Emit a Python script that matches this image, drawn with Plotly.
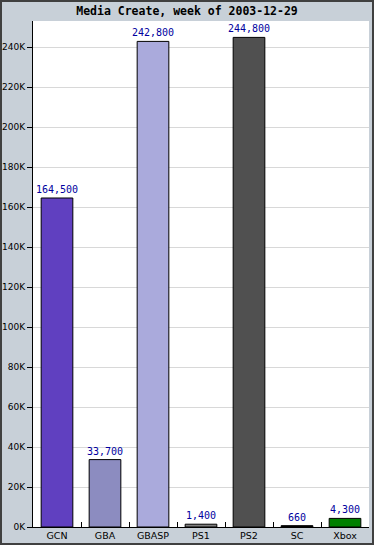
import plotly.graph_objects as go

categories = ["GCN", "GBA", "GBASP", "PS1", "PS2", "SC", "Xbox"]
sales = [164500, 33700, 242800, 1400, 244800, 660, 4300]
bar_colors = ["#6040c0", "#8c8cc0", "#aaaadc", "#808080", "#505050", "#000000", "#008000"]
ytick_vals = [0, 20000, 40000, 60000, 80000, 100000, 120000, 140000, 160000, 180000, 200000, 220000, 240000]
ytick_text = ["0K", "20K", "40K", "60K", "80K", "100K", "120K", "140K", "160K", "180K", "200K", "220K", "240K"]

W, H = 374, 545
ml, mr, mt, mb = 33, 5, 21, 18
pw = W - ml - mr
ph = H - mt - mb

fig = go.Figure(go.Bar(
    x=categories, y=sales,
    marker=dict(color=bar_colors, line=dict(color="#000000", width=1)),
    width=0.66,
    text=[f"{v:,}" for v in sales],
    textposition="outside",
    constraintext="none",
    textfont=dict(family="DejaVu Sans Mono", size=10, color="#0000a0"),
    cliponaxis=False,
))

fig.update_layout(
    width=W, height=H,
    margin=dict(l=ml, r=mr, t=mt, b=mb, pad=0, autoexpand=False),
    paper_bgcolor="#c8d0d8",
    plot_bgcolor="#ffffff",
    showlegend=False,
    bargap=0.34,
    title=dict(text="<b>Media Create, week of 2003-12-29</b>", x=0.5, xref="container",
               y=1 - 11 / H, yref="container", yanchor="middle",
               font=dict(family="DejaVu Sans Mono", size=11.5, color="#000000")),
    xaxis=dict(showline=True, linecolor="#000000", linewidth=1, automargin=False,
               ticks="inside", tickson="boundaries", ticklen=5, tickcolor="#000000",
               tickfont=dict(family="DejaVu Sans", size=9.5, color="#000000"),
               showgrid=False, fixedrange=True),
    yaxis=dict(range=[0, 253000], tickvals=ytick_vals, ticktext=ytick_text, automargin=False,
               showline=True, linecolor="#000000", linewidth=1,
               ticks="outside", ticklen=5, tickcolor="#000000",
               tickfont=dict(family="DejaVu Sans", size=9, color="#000000"),
               showgrid=True, gridcolor="#d8d8d8", gridwidth=1, zeroline=False),
    shapes=[dict(type="rect", xref="paper", yref="paper",
                 xsizemode="pixel", ysizemode="pixel", xanchor=0, yanchor=0,
                 x0=-ml + 1, x1=pw + mr - 1, y0=-mb + 1, y1=ph + mt - 1,
                 line=dict(color="#404040", width=2), fillcolor="rgba(0,0,0,0)",
                 layer="above")],
)

fig.write_html("out.html")
